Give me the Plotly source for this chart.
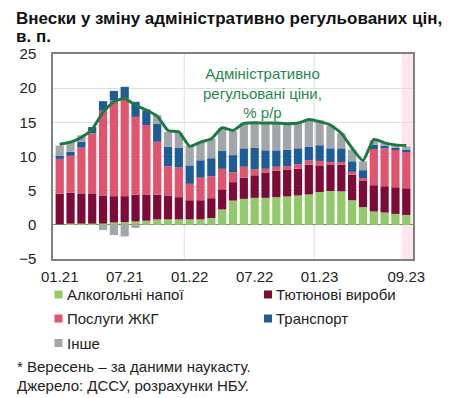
import plotly.graph_objects as go

months = ["01.21","02.21","03.21","04.21","05.21","06.21","07.21","08.21","09.21","10.21","11.21","12.21",
          "01.22","02.22","03.22","04.22","05.22","06.22","07.22","08.22","09.22","10.22","11.22","12.22",
          "01.23","02.23","03.23","04.23","05.23","06.23","07.23","08.23","09.23"]
tick_labels = ["01.21","07.21","01.22","07.22","01.23","09.23"]

alcohol   = [0.05,0.2,0.2,0.2,0.2,0.35,0.4,0.5,0.6,0.8,0.8,0.8,
             0.8,0.8,1.0,2.25,3.55,3.8,3.95,3.95,4.05,4.15,4.3,4.45,
             4.8,4.95,4.9,3.6,2.6,1.95,1.8,1.6,1.45]
tobacco   = [4.5,4.5,4.4,4.4,4.1,3.85,3.8,3.9,3.85,3.6,3.5,3.25,
             2.8,2.8,2.9,2.95,2.7,3.1,3.3,3.65,3.85,3.95,3.9,4.35,
             3.9,3.9,3.9,3.75,3.9,3.85,3.85,3.9,3.9]
housing   = [5.1,5.4,6.7,8.8,12.4,14.0,14.3,11.4,10.15,7.75,4.25,4.35,
             2.4,3.3,3.2,3.0,1.45,1.6,0.85,0.6,0.6,0.5,0.65,0.65,
             0.65,0.35,0.4,0.4,0.35,5.3,5.55,5.45,5.35]
transport = [0.5,0.6,0.85,0.9,1.4,1.4,1.7,2.2,2.2,2.6,2.85,2.9,
             2.7,2.55,2.65,2.6,2.5,2.7,3.2,2.7,2.4,2.4,2.35,1.95,
             2.3,2.0,2.0,1.55,1.15,0.65,0.4,0.35,0.25]
other     = [1.45,1.3,0.95,0.0,-0.75,-1.5,-1.7,-0.45,0.1,1.3,2.2,2.2,
             2.9,2.7,2.8,3.4,3.5,3.7,3.6,4.0,4.0,3.8,3.7,4.0,
             3.65,3.3,2.2,1.7,1.3,0.6,0.35,0.3,0.5]
admin_total = [11.8,12.1,12.8,14.0,16.5,18.0,18.5,17.5,16.8,15.9,13.8,13.6,
               11.5,12.1,12.6,14.2,13.8,14.85,14.95,14.9,14.9,14.8,14.9,15.4,
               15.1,14.6,13.4,11.2,9.4,12.5,12.0,11.7,11.6]

series_names = ["Алкогольні напої", "Тютюнові вироби", "Послуги ЖКГ", "Транспорт", "Інше"]
series_values = [alcohol, tobacco, housing, transport, other]
series_colors = ["#92c96a", "#7d0b38", "#e0546e", "#1d5c96", "#a2a5a9"]
title_lines = ["Внески у зміну адміністративно регульованих цін,", "в. п."]

W, H = 452, 398
ML, MR, MT, MB = 53, 39, 54, 139
PW, PH = W - ML - MR, H - MT - MB


def px_x(px):
    return (px - ML) / PW


def px_y(py):
    return (H - MB - py) / PH


x_idx = list(range(len(months)))
FONT = "Liberation Sans, Arial, sans-serif"
FS = 15

fig = go.Figure()
for name, vals, color in zip(series_names, series_values, series_colors):
    fig.add_trace(go.Bar(x=x_idx, y=vals, name=name, marker_color=color,
                         marker_line_width=0, showlegend=False, hoverinfo="skip"))

fig.add_trace(go.Scatter(x=x_idx, y=admin_total, mode="lines", showlegend=False,
                         name="Адміністративно регульовані ціни, % р/р",
                         line=dict(color="#1b7a43", width=3, shape="spline", smoothing=0.5)))

tickvals = [months.index(t) for t in tick_labels]

fig.update_layout(
    barmode="relative",
    bargap=0.24,
    width=W, height=H,
    margin=dict(l=ML, r=MR, t=MT, b=MB, autoexpand=False),
    paper_bgcolor="white", plot_bgcolor="white",
    showlegend=False,
    font=dict(family=FONT, size=FS, color="#222222"),
    xaxis=dict(range=[-0.62, 32.62], tickmode="array", tickvals=tickvals, ticktext=tick_labels,
               showgrid=False, zeroline=False, showline=True, mirror=True, automargin=False,
               linecolor="#808080", linewidth=1.5, ticks="", ticklabelstandoff=3,
               tickfont=dict(size=FS)),
    yaxis=dict(range=[-5, 25], dtick=5, showgrid=True, gridcolor="#dedede", gridwidth=1,
               zeroline=True, zerolinecolor="#808080", zerolinewidth=1, automargin=False,
               showline=True, mirror=True, linecolor="#808080", linewidth=1.5,
               ticks="", ticklabelstandoff=12, tickfont=dict(size=FS)),
)

# forecast shading and vertical year gridlines
fig.add_shape(type="rect", xref="x", yref="paper", x0=31.55, x1=32.62, y0=0, y1=1,
              fillcolor="#fde6ee", line_width=0, layer="below")
for xv in [11.5, 23.5]:
    fig.add_shape(type="line", xref="x", yref="paper", x0=xv, x1=xv, y0=0, y1=1,
                  line=dict(color="#dedede", width=1), layer="below")

# title (two lines)
for line, cy in zip(title_lines, [18, 37]):
    fig.add_annotation(xref="paper", yref="paper", x=px_x(14), y=px_y(cy), xanchor="left",
                       yanchor="middle", text="<b>" + line + "</b>", showarrow=False, align="left",
                       font=dict(family=FONT, size=17, color="#111111"))

# line label
fig.add_annotation(xref="paper", yref="paper", x=px_x(262), y=px_y(93), yanchor="middle",
                   text="Адміністративно<br>регульовані ціни,<br>% р/р", showarrow=False,
                   font=dict(family=FONT, size=FS, color="#1f8a4c"), align="center")

# legend (two columns)
legend_pos = [(58.5, 294.5), (268, 294.5), (58.5, 318.5), (268, 318.5), (58.5, 343)]
for name, color, (cx, cy) in zip(series_names, series_colors, legend_pos):
    fig.add_shape(type="rect", xref="paper", yref="paper",
                  x0=px_x(cx - 4), x1=px_x(cx + 4), y0=px_y(cy + 4), y1=px_y(cy - 4),
                  fillcolor=color, line_width=0)
    fig.add_annotation(xref="paper", yref="paper", x=px_x(cx + 6), y=px_y(cy), xanchor="left",
                       yanchor="middle", text=name, showarrow=False,
                       font=dict(family=FONT, size=FS, color="#222222"))

# footnotes
fig.add_annotation(xref="paper", yref="paper", x=px_x(15), y=px_y(366), xanchor="left", yanchor="middle",
                   text="* Вересень – за даними наукасту.", showarrow=False,
                   font=dict(family=FONT, size=FS, color="#222222"), align="left")
fig.add_annotation(xref="paper", yref="paper", x=px_x(15), y=px_y(385), xanchor="left", yanchor="middle",
                   text="Джерело: ДССУ, розрахунки НБУ.", showarrow=False,
                   font=dict(family=FONT, size=FS, color="#222222"), align="left")

fig.write_html("out.html", config={"displayModeBar": False},
               post_script="document.body.style.margin='0px';")
